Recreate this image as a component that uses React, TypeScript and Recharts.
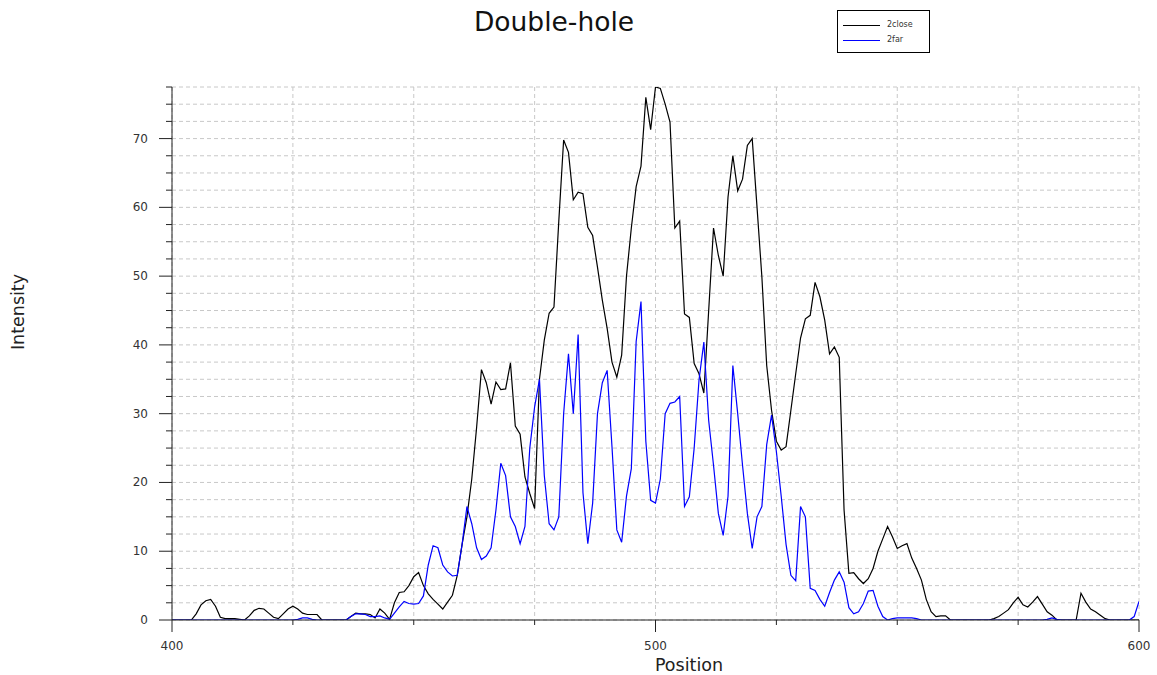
import React from "react";
import { LineChart, Line, XAxis, YAxis, CartesianGrid, Legend } from "recharts";

// sample positions along the profile
const positions = [
  400, 401, 402, 403, 404, 405, 406, 407, 408, 409,
  410, 411, 412, 413, 414, 415, 416, 417, 418, 419,
  420, 421, 422, 423, 424, 425, 426, 427, 428, 429,
  430, 431, 432, 433, 434, 435, 436, 437, 438, 439,
  440, 441, 442, 443, 444, 445, 446, 447, 448, 449,
  450, 451, 452, 453, 454, 455, 456, 457, 458, 459,
  460, 461, 462, 463, 464, 465, 466, 467, 468, 469,
  470, 471, 472, 473, 474, 475, 476, 477, 478, 479,
  480, 481, 482, 483, 484, 485, 486, 487, 488, 489,
  490, 491, 492, 493, 494, 495, 496, 497, 498, 499,
  500, 501, 502, 503, 504, 505, 506, 507, 508, 509,
  510, 511, 512, 513, 514, 515, 516, 517, 518, 519,
  520, 521, 522, 523, 524, 525, 526, 527, 528, 529,
  530, 531, 532, 533, 534, 535, 536, 537, 538, 539,
  540, 541, 542, 543, 544, 545, 546, 547, 548, 549,
  550, 551, 552, 553, 554, 555, 556, 557, 558, 559,
  560, 561, 562, 563, 564, 565, 566, 567, 568, 569,
  570, 571, 572, 573, 574, 575, 576, 577, 578, 579,
  580, 581, 582, 583, 584, 585, 586, 587, 588, 589,
  590, 591, 592, 593, 594, 595, 596, 597, 598, 599,
  600,
];

const close2 = [
  0, 0, 0, 0, 0, 0.9, 2.2, 2.8, 3.0, 2.0,
  0.4, 0.2, 0.2, 0.2, 0.1, 0, 0.6, 1.4, 1.7, 1.6,
  1.0, 0.4, 0.2, 0.9, 1.6, 2.0, 1.6, 1.0, 0.8, 0.8,
  0.8, 0, 0, 0, 0, 0, 0, 0.5, 1.0, 0.9,
  0.9, 0.8, 0.3, 1.6, 1.0, 0.1, 2.5, 4.0, 4.1, 5.0,
  6.3, 6.9, 5.0, 3.8, 3.0, 2.3, 1.6, 2.6, 3.6, 6.5,
  11.0, 15.0, 20.5, 28.0, 36.4, 34.5, 31.4, 34.6, 33.5, 33.6,
  37.4, 28.2, 27.0, 20.8, 18.4, 16.2, 35.0, 40.7, 44.6, 45.5,
  58.0, 69.8, 68.0, 61.1, 62.2, 62.0, 57.1, 55.9, 51.3, 46.5,
  42.4, 37.5, 35.3, 38.5, 50.0, 57.0, 63.0, 66.0, 76.0, 71.3,
  77.5, 77.3, 75.0, 72.4, 57.0, 58.0, 44.5, 44.0, 37.3, 35.8,
  33.0, 45.0, 57.0, 53.0, 50.0, 61.5, 67.5, 62.4, 64.1, 69.0,
  70.0, 60.0, 49.9, 37.0, 30.5, 26.0, 24.7, 25.2, 30.5, 35.8,
  41.0, 43.8, 44.3, 49.1, 47.0, 43.6, 38.7, 39.7, 38.2, 16.0,
  6.8, 6.9, 6.0, 5.3, 6.0, 7.5, 10.0, 11.8, 13.6, 12.1,
  10.4, 10.8, 11.1, 9.0, 7.5, 5.8, 3.0, 1.2, 0.5, 0.6,
  0.6, 0, 0, 0, 0, 0, 0, 0, 0, 0,
  0.2, 0.5, 1.0, 1.5, 2.5, 3.3, 2.2, 1.9, 2.6, 3.4,
  2.3, 1.2, 0.7, 0, 0, 0, 0, 0, 3.9, 2.6,
  1.6, 1.2, 0.7, 0.2, 0, 0, 0, 0, 0, 0,
  0,
];

const far2 = [
  0, 0, 0, 0, 0, 0, 0, 0, 0, 0,
  0, 0, 0, 0, 0, 0, 0, 0, 0, 0,
  0, 0, 0, 0, 0, 0, 0.1, 0.3, 0.3, 0.1,
  0, 0, 0, 0, 0, 0, 0, 0.5, 0.9, 0.9,
  0.8, 0.5, 0.5, 0.6, 0.3, 0.1, 1.0, 1.9, 2.7, 2.4,
  2.3, 2.4, 3.5, 8.0, 10.8, 10.5, 8.0, 7.0, 6.4, 6.5,
  11.0, 16.5, 14.0, 10.5, 8.8, 9.3, 10.5, 16.0, 22.8, 21.0,
  15.0, 13.6, 11.1, 13.6, 25.0, 31.0, 35.0, 21.0, 14.0, 13.1,
  15.0, 30.0, 38.7, 30.0, 41.5, 18.5, 11.1, 17.0, 30.0, 34.5,
  36.3, 25.2, 13.1, 11.3, 18.0, 22.0, 40.5, 46.3, 26.0, 17.4,
  17.0, 20.5, 30.0, 31.5, 31.7, 32.5, 16.5, 17.9, 25.0, 34.9,
  40.4, 29.0, 22.5, 15.5, 12.3, 18.0, 37.0, 30.0, 22.5, 15.5,
  10.4, 15.0, 16.5, 25.5, 29.8, 24.5, 18.0, 11.0, 6.5, 5.7,
  16.5, 15.0, 4.6, 4.3, 3.0, 2.0, 4.0, 5.8, 7.0, 5.5,
  1.8, 0.9, 1.2, 2.4, 4.2, 4.3, 2.0, 0.5, 0, 0.2,
  0.3, 0.3, 0.3, 0.3, 0.2, 0, 0, 0, 0, 0,
  0, 0, 0, 0, 0, 0, 0, 0, 0, 0,
  0, 0, 0, 0, 0, 0, 0, 0, 0, 0,
  0, 0.1, 0.3, 0.1, 0, 0, 0, 0, 0, 0,
  0, 0, 0, 0, 0, 0, 0, 0, 0, 0.5,
  2.7,
];

const xTicks = [400, 425, 450, 475, 500, 525, 550, 575, 600];
const xLabelled = [400, 500, 600];
const yTicks = [
  0, 2.5, 5, 7.5, 10, 12.5, 15, 17.5, 20, 22.5, 25, 27.5, 30, 32.5, 35, 37.5,
  40, 42.5, 45, 47.5, 50, 52.5, 55, 57.5, 60, 62.5, 65, 67.5, 70, 72.5, 75, 77.5,
];

const chartData = positions.map((position, i) => ({
  position,
  close: close2[i],
  far: far2[i],
}));

const FONT = "'DejaVu Sans', sans-serif";

function XTick({ x, y, payload }: any) {
  const major = xLabelled.includes(payload.value);
  return (
    <g>
      <line x1={x} x2={x} y1={y} y2={y + (major ? 12 : 5)} stroke="#222" />
      {major && (
        <text x={x} y={y + 30} textAnchor="middle" fontSize={12} fill="#333" fontFamily={FONT}>
          {payload.value}
        </text>
      )}
    </g>
  );
}

function YTick({ x, y, payload }: any) {
  const major = payload.value % 10 === 0;
  return (
    <g>
      <line x1={x - (major ? 13 : 6)} x2={x} y1={y} y2={y} stroke="#222" />
      {major && (
        <text x={x - 24} y={y + 4} textAnchor="end" fontSize={12} fill="#333" fontFamily={FONT}>
          {payload.value}
        </text>
      )}
    </g>
  );
}

function LegendBox({ payload }: any) {
  return (
    <div
      style={{
        position: "relative",
        width: 93,
        height: 43,
        boxSizing: "border-box",
        border: "1px solid #000",
        background: "#fff",
        fontFamily: FONT,
        fontSize: 8,
        color: "#333",
      }}
    >
      {(payload || []).map((entry: any, i: number) => (
        <div
          key={entry.value}
          style={{ position: "absolute", left: 5, top: 9 + i * 15, height: 10, display: "flex", alignItems: "center" }}
        >
          <div style={{ width: 37, height: 0, borderTop: `1.2px solid ${entry.color}` }} />
          <span style={{ marginLeft: 7, lineHeight: "10px" }}>{entry.value}</span>
        </div>
      ))}
    </div>
  );
}

export default function App() {
  return (
    <div style={{ position: "absolute", left: 0, top: 0, width: 1157, height: 675, background: "#fff" }}>
      <div
        style={{
          position: "absolute",
          left: 354,
          top: 6,
          width: 400,
          textAlign: "center",
          fontFamily: FONT,
          fontSize: 26.5,
          color: "#111",
        }}
      >
        Double-hole
      </div>
      <LineChart width={1157} height={675} data={chartData} margin={{ top: 87, right: 18, bottom: 0, left: 0 }}>
        <CartesianGrid stroke="#c8c8c8" strokeDasharray="4 3" />
        <XAxis
          type="number"
          dataKey="position"
          domain={[400, 600]}
          ticks={xTicks}
          interval={0}
          height={55}
          tickSize={0}
          tickMargin={0}
          tickLine={false}
          tick={<XTick />}
          axisLine={{ stroke: "#222" }}
          allowDataOverflow
          label={() => (
            <text x={689} y={671} textAnchor="middle" fontSize={17.5} fill="#222" fontFamily={FONT}>
              Position
            </text>
          )}
        />
        <YAxis
          type="number"
          domain={[0, 77.5]}
          ticks={yTicks}
          interval={0}
          width={172}
          tickSize={0}
          tickMargin={0}
          tickLine={false}
          tick={<YTick />}
          axisLine={{ stroke: "#222" }}
          allowDataOverflow
          label={() => (
            <text
              x={24}
              y={312}
              textAnchor="middle"
              fontSize={17.5}
              fill="#222"
              fontFamily={FONT}
              transform="rotate(-90, 24, 312)"
            >
              Intensity
            </text>
          )}
        />
        <Legend
          layout="vertical"
          align="center"
          verticalAlign="middle"
          wrapperStyle={{ left: 837, top: 10, width: "auto", height: "auto" }}
          content={<LegendBox />}
        />
        <Line
          name="2close"
          type="linear"
          dataKey="close"
          stroke="#000"
          strokeWidth={1.2}
          dot={false}
          activeDot={false}
          isAnimationActive={false}
        />
        <Line
          name="2far"
          type="linear"
          dataKey="far"
          stroke="#0000ff"
          strokeWidth={1.2}
          dot={false}
          activeDot={false}
          isAnimationActive={false}
        />
      </LineChart>
    </div>
  );
}
